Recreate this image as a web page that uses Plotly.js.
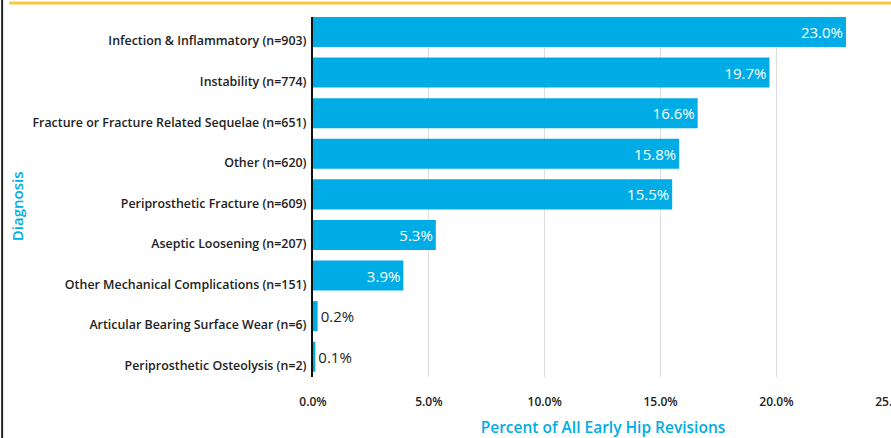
<!DOCTYPE html>
<html>
<head>
<meta charset="utf-8">
<script src="https://cdn.plot.ly/plotly-3.0.1.min.js"></script>
<style>
html,body{margin:0;padding:0;overflow:hidden;background:#fff;width:891px;height:438px;}
#chart{width:905px;height:438px;}
</style>
</head>
<body>
<div id="chart"></div>
<script>
const categories = [
  "Infection & Inflammatory (n=903)",
  "Instability (n=774)",
  "Fracture or Fracture Related Sequelae (n=651)",
  "Other (n=620)",
  "Periprosthetic Fracture (n=609)",
  "Aseptic Loosening (n=207)",
  "Other Mechanical Complications (n=151)",
  "Articular Bearing Surface Wear (n=6)",
  "Periprosthetic Osteolysis (n=2)"
];
const percents = [23.0, 19.7, 16.6, 15.8, 15.5, 5.3, 3.9, 0.2, 0.1];
const xTickVals = [0, 5, 10, 15, 20, 25];
const xTickText = ["0.0%", "5.0%", "10.0%", "15.0%", "20.0%", "25.0%"];

const blue = "#00ACE6";
const fontFam = "'Open Sans', 'Noto Sans', sans-serif";

const labels = percents.map(v => v.toFixed(1) + "%");
const positions = percents.map(v => v >= 1 ? "inside" : "outside");

const trace = {
  type: "bar",
  orientation: "h",
  x: percents,
  y: categories,
  text: labels,
  textposition: positions,
  insidetextanchor: "end",
  textangle: 0,
  constraintext: "none",
  cliponaxis: false,
  insidetextfont: {family: fontFam, size: 15, color: "#ffffff"},
  outsidetextfont: {family: fontFam, size: 15, color: "#222222"},
  marker: {color: blue, line: {width: 0}},
  hoverinfo: "skip"
};

const layout = {
  width: 905,
  height: 438,
  margin: {l: 313, r: 12, t: 17, b: 61, pad: 0},
  paper_bgcolor: "#ffffff",
  plot_bgcolor: "#ffffff",
  bargap: 0.26,
  showlegend: false,
  font: {family: fontFam, color: "#222222"},
  xaxis: {
    range: [0, 25.03],
    tickvals: xTickVals,
    ticktext: xTickText,
    ticklabeloverflow: "allow",
    tickfont: {family: fontFam, size: 12, color: "#222222", weight: 600},
    showgrid: true,
    gridcolor: "#dddddd",
    gridwidth: 1,
    zeroline: false,
    showline: false,
    ticks: "outside",
    ticklen: 14,
    tickcolor: "rgba(0,0,0,0)",
    title: {text: "Percent of All Early Hip Revisions", font: {family: fontFam, size: 15.5, color: blue, weight: 600}, standoff: 16},
    fixedrange: true
  },
  yaxis: {
    range: [8.5, -0.37],
    tickfont: {family: fontFam, size: 12.4, color: "#222222", weight: 600},
    showline: true,
    linecolor: "#111111",
    linewidth: 2,
    showgrid: false,
    zeroline: false,
    ticks: "",
    ticklabelshift: -9,
    ticklabelstandoff: 2,
    fixedrange: true
  },
  annotations: [
    {text: "Diagnosis", xref: "paper", yref: "paper", x: -0.51, y: 0.475, xanchor: "center", yanchor: "middle",
     textangle: -90, showarrow: false, font: {family: fontFam, size: 15, color: blue, weight: 600}}
  ],
  shapes: [
    {type: "line", xref: "paper", yref: "paper", x0: -0.524, x1: 1.1, y0: 1.039, y1: 1.039, line: {color: "#F9C940", width: 3}},
    {type: "line", xref: "paper", yref: "paper", x0: -0.536, x1: -0.536, y0: -0.2, y1: 1.1, line: {color: "#222222", width: 2}}
  ]
};

Plotly.newPlot("chart", [trace], layout, {displayModeBar: false, staticPlot: true});
</script>
</body>
</html>
